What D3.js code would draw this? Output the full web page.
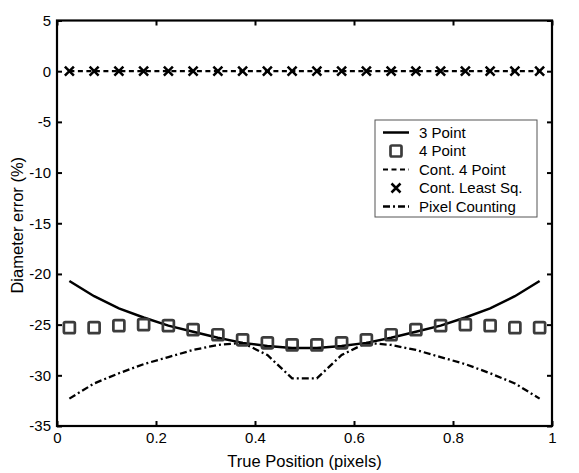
<!DOCTYPE html>
<html>
<head>
<meta charset="utf-8">
<script src="https://cdn.jsdelivr.net/npm/d3@7"></script>
<style>
  html, body { margin: 0; padding: 0; background: #fff; }
  svg { display: block; font-family: "Liberation Sans", Arial, sans-serif; }
</style>
</head>
<body>
<svg id="chart" width="579" height="473"></svg>
<script>
// Sample positions (pixels) shared by every method
const positions = [0.025, 0.075, 0.125, 0.175, 0.225, 0.275, 0.325, 0.375, 0.425, 0.475,
                   0.525, 0.575, 0.625, 0.675, 0.725, 0.775, 0.825, 0.875, 0.925, 0.975];

// Diameter error (%) per method
const threePoint   = [-20.7, -22.2, -23.4, -24.3, -25.1, -25.7, -26.3, -26.8, -27.1, -27.3,
                      -27.3, -27.1, -26.8, -26.3, -25.7, -25.1, -24.3, -23.4, -22.2, -20.7];
const fourPoint    = [-25.3, -25.3, -25.1, -25.0, -25.1, -25.5, -26.0, -26.5, -26.8, -27.0,
                      -27.0, -26.8, -26.5, -26.0, -25.5, -25.1, -25.0, -25.1, -25.3, -25.3];
const contFour     = [0, 0, 0, 0, 0, 0, 0, 0, 0, 0, 0, 0, 0, 0, 0, 0, 0, 0, 0, 0];
const contLeastSq  = [0, 0, 0, 0, 0, 0, 0, 0, 0, 0, 0, 0, 0, 0, 0, 0, 0, 0, 0, 0];
const pixelCount   = [-32.3, -30.8, -29.8, -28.9, -28.2, -27.5, -27.0, -26.8, -28.0, -30.3,
                      -30.3, -28.0, -26.8, -27.0, -27.5, -28.2, -28.9, -29.8, -30.8, -32.3];

// Axis ticks
const xTicks = [0, 0.2, 0.4, 0.6, 0.8, 1];
const yTicks = [-35, -30, -25, -20, -15, -10, -5, 0, 5];

const legendLabels = ["3 Point", "4 Point", "Cont. 4 Point", "Cont. Least Sq.", "Pixel Counting"];

const svg = d3.select("#chart");
const plotLeft = 57, plotRight = 552, plotTop = 20.5, plotBottom = 426;

const x = d3.scaleLinear().domain([0, 1]).range([plotLeft, plotRight]);
const y = d3.scaleLinear().domain([-35, 5]).range([plotBottom, plotTop]);

const fmt = d => String(d);

// Axes with inward ticks on all four sides
const gx = svg.append("g").attr("transform", `translate(0,${plotBottom})`)
  .call(d3.axisBottom(x).tickValues(xTicks).tickFormat(fmt).tickSizeInner(-5).tickSizeOuter(0).tickPadding(6));
const gy = svg.append("g").attr("transform", `translate(${plotLeft},0)`)
  .call(d3.axisLeft(y).tickValues(yTicks).tickFormat(fmt).tickSizeInner(-5).tickSizeOuter(0).tickPadding(6));
const gt = svg.append("g").attr("transform", `translate(0,${plotTop})`)
  .call(d3.axisTop(x).tickValues(xTicks).tickFormat("").tickSizeInner(-5).tickSizeOuter(0));
const gr = svg.append("g").attr("transform", `translate(${plotRight},0)`)
  .call(d3.axisRight(y).tickValues(yTicks).tickFormat("").tickSizeInner(-5).tickSizeOuter(0));

[gx, gy, gt, gr].forEach(g => {
  g.select(".domain").remove();
  g.selectAll(".tick line").attr("stroke", "#000").attr("stroke-width", 2);
  g.selectAll(".tick text").attr("fill", "#000").style("font-size", "15px")
    .style("font-family", "'Liberation Sans', Arial, sans-serif");
});

// Plot frame
svg.append("rect")
  .attr("x", plotLeft).attr("y", plotTop)
  .attr("width", plotRight - plotLeft).attr("height", plotBottom - plotTop)
  .attr("fill", "none").attr("stroke", "#000").attr("stroke-width", 2.2);

// Axis titles
svg.append("text")
  .attr("x", (plotLeft + plotRight) / 2).attr("y", 467)
  .attr("text-anchor", "middle").style("font-size", "16.5px")
  .text("True Position (pixels)");
svg.append("text")
  .attr("transform", `translate(23,${(plotTop + plotBottom) / 2 + 2}) rotate(-90)`)
  .attr("text-anchor", "middle").style("font-size", "16.5px")
  .text("Diameter error (%)");

const line = vals => d3.line()
  .x((d, i) => x(positions[i]))
  .y(d => y(d))(vals);

const plot = svg.append("g");

// Dash patterns
const DASH = "5,3.5";
const DASHDOT = "7,3,2,3";

// Pixel counting (dash-dot)
plot.append("path").attr("d", line(pixelCount))
  .attr("fill", "none").attr("stroke", "#000").attr("stroke-width", 2.3)
  .attr("stroke-dasharray", DASHDOT);

// 3 point (solid)
plot.append("path").attr("d", line(threePoint))
  .attr("fill", "none").attr("stroke", "#000").attr("stroke-width", 2.5);

// Continuous 4 point (dashed)
plot.append("path").attr("d", line(contFour))
  .attr("fill", "none").attr("stroke", "#000").attr("stroke-width", 2.2)
  .attr("stroke-dasharray", DASH);

// 4 point (squares)
const sq = 11;
plot.selectAll("rect.fp").data(fourPoint).join("rect")
  .attr("class", "fp")
  .attr("x", (d, i) => x(positions[i]) - sq / 2)
  .attr("y", d => y(d) - sq / 2)
  .attr("width", sq).attr("height", sq)
  .attr("rx", 1.5)
  .attr("fill", "none").attr("stroke", "#3c3c3c").attr("stroke-width", 2.7);

// Continuous least squares (crosses)
const cr = 4.5;
const crossPath = (cx, cy) => `M${cx - cr},${cy - cr}L${cx + cr},${cy + cr}M${cx - cr},${cy + cr}L${cx + cr},${cy - cr}`;
plot.selectAll("path.cls").data(contLeastSq).join("path")
  .attr("class", "cls")
  .attr("d", (d, i) => crossPath(x(positions[i]), y(d)))
  .attr("fill", "none").attr("stroke", "#000").attr("stroke-width", 2.5);

// Legend
const lg = svg.append("g");
const lx = 375, ly = 120, lw = 162, lh = 97;
lg.append("rect").attr("x", lx).attr("y", ly).attr("width", lw).attr("height", lh)
  .attr("fill", "#fff").attr("stroke", "#555").attr("stroke-width", 1);
const rowY = i => ly + 12.5 + i * 18.5;
const sx0 = lx + 8, sx1 = lx + 34, sxm = (sx0 + sx1) / 2;
legendLabels.forEach((label, i) => {
  const yy = rowY(i);
  if (i === 0) {
    lg.append("line").attr("x1", sx0).attr("x2", sx1).attr("y1", yy).attr("y2", yy)
      .attr("stroke", "#000").attr("stroke-width", 2.5);
  } else if (i === 1) {
    lg.append("rect").attr("x", sxm - sq / 2).attr("y", yy - sq / 2).attr("width", sq).attr("height", sq)
      .attr("rx", 1.5).attr("fill", "none").attr("stroke", "#3c3c3c").attr("stroke-width", 2.7);
  } else if (i === 2) {
    lg.append("line").attr("x1", sx0).attr("x2", sx1).attr("y1", yy).attr("y2", yy)
      .attr("stroke", "#000").attr("stroke-width", 2.2).attr("stroke-dasharray", DASH);
  } else if (i === 3) {
    lg.append("path").attr("d", crossPath(sxm, yy))
      .attr("fill", "none").attr("stroke", "#000").attr("stroke-width", 2.5);
  } else {
    lg.append("line").attr("x1", sx0).attr("x2", sx1).attr("y1", yy).attr("y2", yy)
      .attr("stroke", "#000").attr("stroke-width", 2.3).attr("stroke-dasharray", DASHDOT);
  }
  lg.append("text").attr("x", lx + 44).attr("y", yy).attr("dy", "0.36em")
    .style("font-size", "15px").text(label);
});
</script>
</body>
</html>
